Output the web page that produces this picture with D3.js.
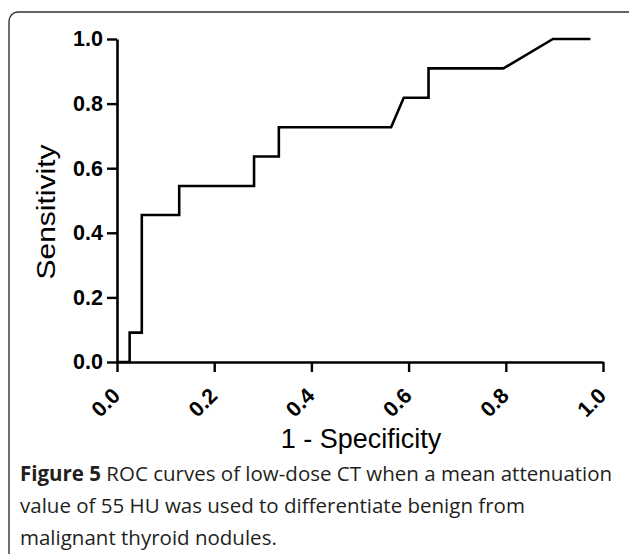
<!DOCTYPE html>
<html>
<head>
<meta charset="utf-8">
<script src="https://cdn.jsdelivr.net/npm/d3@7"></script>
<style>
  body { margin: 0; background: #fff; }
  svg { display: block; }
</style>
</head>
<body>
<div id="chart-area"></div>
<script>
// ROC curve points (1 - specificity, sensitivity)
var fpr  = [0.000, 0.026, 0.026, 0.051, 0.051, 0.128, 0.128, 0.282, 0.282, 0.333, 0.333, 0.564, 0.590, 0.641, 0.641, 0.795, 0.897, 0.974];
var sens = [0.000, 0.000, 0.091, 0.091, 0.455, 0.455, 0.545, 0.545, 0.636, 0.636, 0.727, 0.727, 0.818, 0.818, 0.909, 0.909, 1.000, 1.000];
var xTicks = [0, 0.2, 0.4, 0.6, 0.8, 1.0];
var yTicks = [0, 0.2, 0.4, 0.6, 0.8, 1.0];
var captionLines = [
  ["Figure 5", " ROC curves of low-dose CT when a mean attenuation"],
  ["", "value of 55 HU was used to differentiate benign from"],
  ["", "malignant thyroid nodules."]
];

var W = 629, H = 554;

var svg = d3.select("#chart-area")
  .append("svg")
  .attr("width", W)
  .attr("height", H);

// frame
svg.append("rect")
  .attr("x", 9).attr("y", 12)
  .attr("width", 640).attr("height", 580)
  .attr("rx", 9).attr("ry", 9)
  .attr("fill", "none")
  .attr("stroke", "#333")
  .attr("stroke-width", 1.4);

// scales
var x = d3.scaleLinear().domain([0, 1]).range([117, 603]);
var y = d3.scaleLinear().domain([0, 1]).range([362, 39]);

var axisFont = "Liberation Sans, Arial, sans-serif";

// y axis
var leftAxis = d3.axisLeft(y)
  .tickValues(yTicks)
  .tickFormat(d3.format(".1f"))
  .tickSizeInner(10)
  .tickSizeOuter(0)
  .tickPadding(4);

var gy = svg.append("g")
  .attr("class", "y-axis")
  .attr("transform", "translate(" + x(0) + ",0)")
  .call(leftAxis);

gy.select(".domain").attr("stroke-width", 2.6);
gy.selectAll(".tick line").attr("stroke-width", 2.4);
gy.selectAll(".tick text")
  .attr("font-family", axisFont)
  .attr("font-weight", "bold")
  .attr("font-size", 21.5)
  .attr("fill", "#000");

// x axis
var bottomAxis = d3.axisBottom(x)
  .tickValues(xTicks)
  .tickFormat(d3.format(".1f"))
  .tickSizeInner(10)
  .tickSizeOuter(0);

var gx = svg.append("g")
  .attr("class", "x-axis")
  .attr("transform", "translate(0," + y(0) + ")")
  .call(bottomAxis);

gx.select(".domain").attr("stroke-width", 2.6);
gx.selectAll(".tick line").attr("stroke-width", 2.4);
gx.selectAll(".tick text")
  .attr("font-family", axisFont)
  .attr("font-weight", "bold")
  .attr("font-size", 21.5)
  .attr("fill", "#000")
  .attr("text-anchor", "end")
  .attr("dy", null)
  .attr("y", null)
  .attr("transform", "translate(4,35) rotate(-45)");

// curve
var pts = fpr.map(function(d, i) { return [d, sens[i]]; });
var line = d3.line()
  .x(function(d) { return x(d[0]); })
  .y(function(d) { return y(d[1]); });

svg.append("path")
  .datum(pts)
  .attr("d", line)
  .attr("fill", "none")
  .attr("stroke", "#000")
  .attr("stroke-width", 2.6)
  .attr("stroke-linejoin", "miter");

// axis titles
svg.append("text")
  .attr("x", 361).attr("y", 448)
  .attr("text-anchor", "middle")
  .attr("font-family", axisFont)
  .attr("font-size", 27)
  .attr("fill", "#000")
  .text("1 - Specificity");

svg.append("text")
  .attr("transform", "translate(55,212) rotate(-90)")
  .attr("text-anchor", "middle")
  .attr("font-family", axisFont)
  .attr("font-size", 25)
  .attr("textLength", 135)
  .attr("lengthAdjust", "spacingAndGlyphs")
  .attr("fill", "#000")
  .text("Sensitivity");

// caption
var cap = svg.append("g").attr("class", "caption");
captionLines.forEach(function(parts, i) {
  var t = cap.append("text")
    .attr("x", 20)
    .attr("y", 481 + i * 32)
    .attr("font-family", "Open Sans, sans-serif")
    .attr("font-size", 20.5)
    .attr("fill", "#231f20");
  if (parts[0]) t.append("tspan").attr("font-weight", "bold").text(parts[0]);
  t.append("tspan").text(parts[1]);
});
</script>
</body>
</html>
